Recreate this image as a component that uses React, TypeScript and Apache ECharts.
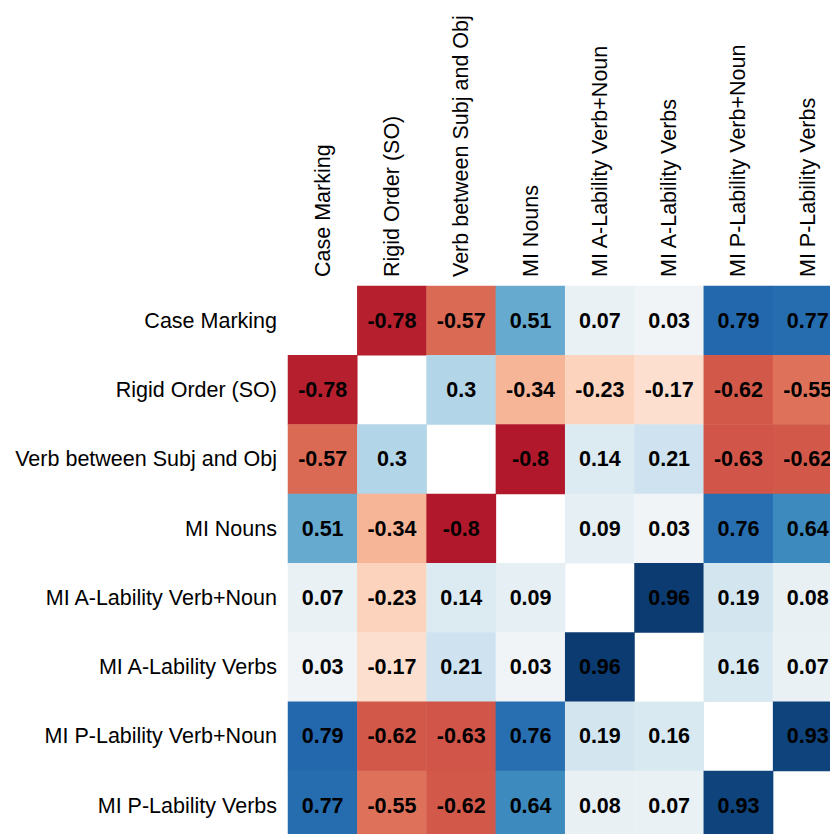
import React, { useEffect, useRef } from "react";
import * as echarts from "echarts";

// Variable names, shared by rows and columns
const variables = [
  "Case Marking",
  "Rigid Order (SO)",
  "Verb between Subj and Obj",
  "MI Nouns",
  "MI A-Lability Verb+Noun",
  "MI A-Lability Verbs",
  "MI P-Lability Verb+Noun",
  "MI P-Lability Verbs",
];

// Correlation rows (null on the diagonal)
const caseMarking = [null, -0.78, -0.57, 0.51, 0.07, 0.03, 0.79, 0.77];
const rigidOrder = [-0.78, null, 0.3, -0.34, -0.23, -0.17, -0.62, -0.55];
const verbBetween = [-0.57, 0.3, null, -0.8, 0.14, 0.21, -0.63, -0.62];
const miNouns = [0.51, -0.34, -0.8, null, 0.09, 0.03, 0.76, 0.64];
const miALabVerbNoun = [0.07, -0.23, 0.14, 0.09, null, 0.96, 0.19, 0.08];
const miALabVerbs = [0.03, -0.17, 0.21, 0.03, 0.96, null, 0.16, 0.07];
const miPLabVerbNoun = [0.79, -0.62, -0.63, 0.76, 0.19, 0.16, null, 0.93];
const miPLabVerbs = [0.77, -0.55, -0.62, 0.64, 0.08, 0.07, 0.93, null];

const rows = [
  caseMarking,
  rigidOrder,
  verbBetween,
  miNouns,
  miALabVerbNoun,
  miALabVerbs,
  miPLabVerbNoun,
  miPLabVerbs,
];

// Diverging red-blue palette from -1 to 1
const rdBu = [
  "#67001f",
  "#b2182b",
  "#d6604d",
  "#f4a582",
  "#fddbc7",
  "#f7f7f7",
  "#d1e5f0",
  "#92c5de",
  "#4393c3",
  "#2166ac",
  "#053061",
];

const FONT = "'Liberation Sans', Arial, sans-serif";

export default function App() {
  const ref = useRef<HTMLDivElement>(null);

  useEffect(() => {
    if (!ref.current) return;
    const chart = echarts.init(ref.current, null, { renderer: "svg" });

    const data: [number, number, number][] = [];
    rows.forEach((row, r) => {
      row.forEach((v, c) => {
        if (v !== null) data.push([c, r, v as number]);
      });
    });

    const cell = 69.3;

    chart.setOption({
      animation: false,
      backgroundColor: "#ffffff",
      grid: {
        left: 288,
        top: 286,
        width: cell * variables.length,
        height: cell * variables.length,
        outerBoundsMode: "none",
      },
      xAxis: {
        type: "category",
        data: variables,
        position: "top",
        axisLine: { show: false },
        axisTick: { show: false },
        splitLine: { show: false },
        axisLabel: {
          rotate: -90,
          margin: 9,
          color: "#000",
          fontSize: 21.5,
          fontFamily: FONT,
          interval: 0,
        },
      },
      yAxis: {
        type: "category",
        data: variables,
        inverse: true,
        axisLine: { show: false },
        axisTick: { show: false },
        splitLine: { show: false },
        axisLabel: {
          margin: 11,
          color: "#000",
          fontSize: 21.5,
          fontFamily: FONT,
          interval: 0,
        },
      },
      visualMap: {
        show: false,
        min: -1,
        max: 1,
        calculable: false,
        inRange: { color: rdBu },
      },
      series: [
        {
          type: "heatmap",
          data,
          itemStyle: { borderWidth: 0 },
          emphasis: { disabled: true },
          label: {
            show: true,
            color: "#000",
            fontSize: 21.5,
            fontWeight: "bold",
            fontFamily: FONT,
            formatter: (p: any) => String(p.value[2]),
          },
        },
      ],
    });

    return () => chart.dispose();
  }, []);

  return (
    <div
      ref={ref}
      style={{ position: "absolute", left: 0, top: 0, width: 830, height: 834 }}
    />
  );
}
